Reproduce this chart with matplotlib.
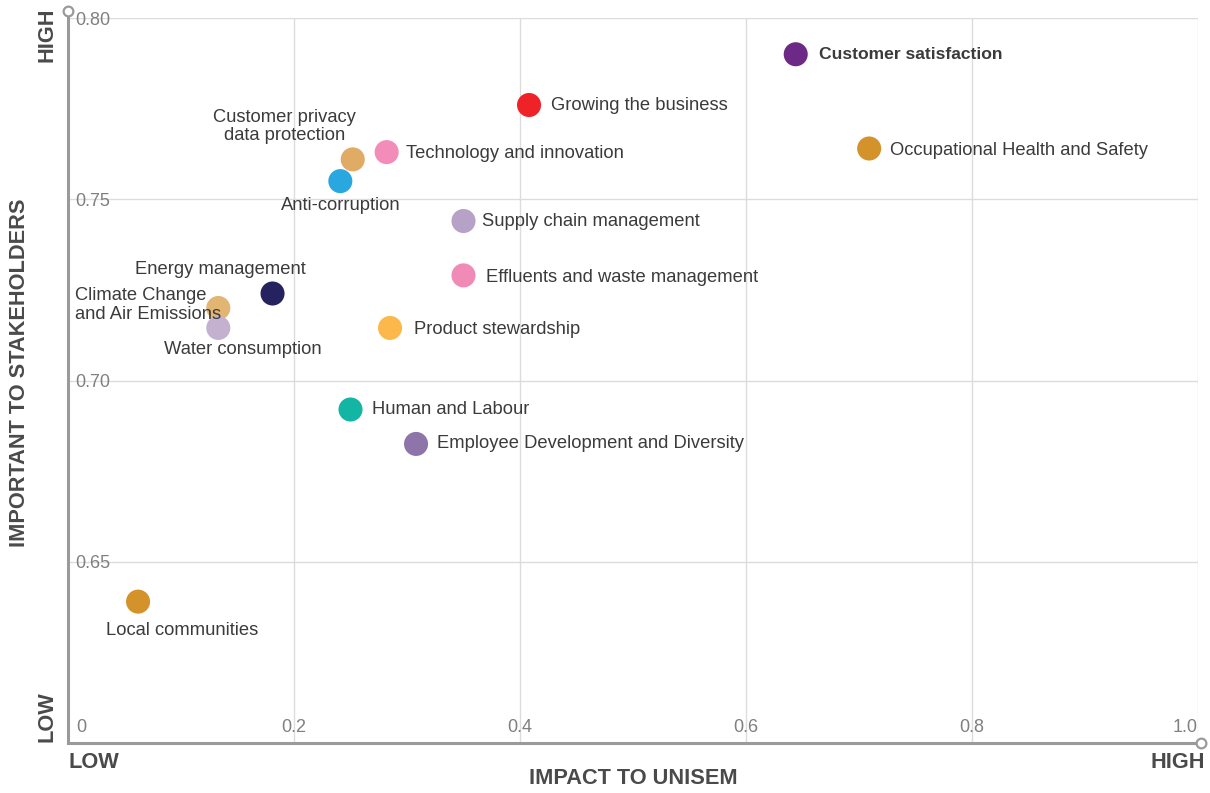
import matplotlib
matplotlib.use("Agg")
import matplotlib.pyplot as plt
from matplotlib.lines import Line2D

plt.rcParams['font.family'] = ['Liberation Sans', 'DejaVu Sans']

# data
topics = [
    "Customer satisfaction", "Growing the business", "Occupational Health and Safety",
    "Technology and innovation", "Customer privacy\ndata protection", "Anti-corruption",
    "Supply chain management", "Effluents and waste management", "Energy management",
    "Climate Change\nand Air Emissions", "Water consumption", "Product stewardship",
    "Human and Labour", "Employee Development and Diversity", "Local communities",
]
impact = [0.644, 0.408, 0.709, 0.282, 0.252, 0.241, 0.350, 0.350, 0.181,
          0.133, 0.133, 0.285, 0.250, 0.308, 0.062]
importance = [0.790, 0.776, 0.764, 0.763, 0.761, 0.755, 0.744, 0.729, 0.724,
              0.720, 0.7145, 0.7145, 0.692, 0.6825, 0.639]
colors = ["#6c2a86", "#ee2227", "#d4922b", "#f28db9", "#e0ab65", "#29a8e0",
          "#b8a1c7", "#f08ab7", "#25225f", "#e3b572", "#c4b1d0", "#fdb84b",
          "#13b5a5", "#8e75a9", "#d4922b"]

x_ticks = [0, 0.2, 0.4, 0.6, 0.8, 1.0]
x_tick_labels = ["0", "0.2", "0.4", "0.6", "0.8", "1.0"]
y_ticks = [0.65, 0.70, 0.75, 0.80]
y_tick_labels = ["0.65", "0.70", "0.75", "0.80"]

# label placement: (dx, dy) in pixels, horizontal alignment
label_pos = [
    (23, 0, "left"), (22, 0, "left"), (21, -2, "left"), (19, -1, "left"),
    (-68, 33, "center"), (0, -24, "center"), (19, 0, "left"), (22, -2, "left"),
    (-52, 24, "center"), (-143, 3, "left"), (25, -22, "center"), (24, -2, "left"),
    (22, 0, "left"), (21, 0, "left"), (44, -29, "center"),
]

W, H = 1210, 793
fig = plt.figure(figsize=(W / 100, H / 100), dpi=100)
x0, x1, y0, y1 = 68, 1198, 18, 743
ax = fig.add_axes([x0 / W, 1 - y1 / H, (x1 - x0) / W, (y1 - y0) / H])
ax.set_xlim(0, 1.0)
ax.set_ylim(0.60, 0.80)

grid_c = "#dcdcdc"
for xt in x_ticks[1:]:
    ax.axvline(xt, color=grid_c, lw=1, zorder=0)
for yt in y_ticks:
    ax.axhline(yt, color=grid_c, lw=1, zorder=0)

for s in ax.spines.values():
    s.set_visible(False)
ax.set_xticks([])
ax.set_yticks([])

# axis lines with open circle ends
axis_c = "#9a9a9a"
ytop = 0.8018
ax.add_line(Line2D([0, 0], [0.60, ytop], color=axis_c, lw=2.2, clip_on=False, zorder=3))
ax.add_line(Line2D([0, 1.003], [0.60, 0.60], color=axis_c, lw=2.2, clip_on=False, zorder=3))
ax.plot([0], [ytop], "o", ms=7, mfc="white", mec=axis_c, mew=1.6, clip_on=False, zorder=4)
ax.plot([1.003], [0.60], "o", ms=7, mfc="white", mec=axis_c, mew=1.6, clip_on=False, zorder=4)

tick_c = "#808080"
for yt, lab in zip(y_ticks, y_tick_labels):
    ax.annotate(lab, (0, yt), xytext=(5, -1.5), textcoords="offset points",
                ha="left", va="center", fontsize=13, color=tick_c)
for i, (xt, lab) in enumerate(zip(x_ticks, x_tick_labels)):
    ha = "left" if i == 0 else ("right" if i == len(x_ticks) - 1 else "center")
    dx = 6 if i == 0 else 0
    ax.annotate(lab, (xt, 0.60), xytext=(dx, 11), textcoords="offset points",
                ha=ha, va="center", fontsize=13, color=tick_c)

ax.scatter(impact, importance, s=300, c=colors, edgecolors="none", zorder=5, clip_on=False)

txt_c = "#3b3b3b"
for i, (name, x, y, (dx, dy, ha)) in enumerate(zip(topics, impact, importance, label_pos)):
    ax.annotate(name, (x, y), xytext=(dx * 0.72, dy * 0.72), textcoords="offset points",
                ha=ha, va="center", fontsize=12.6 if i == 0 else 13.2,
                fontweight="bold" if i == 0 else "normal",
                color=txt_c, linespacing=1.1, zorder=6)

lab_c = "#4a4a4a"
fig.text(633 / W, 1 - 779 / H, "IMPACT TO UNISEM", ha="center", va="center",
         fontsize=15.7, fontweight="bold", color=lab_c)
fig.text(68 / W, 1 - 763 / H, "LOW", ha="left", va="center",
         fontsize=15.7, fontweight="bold", color=lab_c)
fig.text(1205 / W, 1 - 763 / H, "HIGH", ha="right", va="center",
         fontsize=15.7, fontweight="bold", color=lab_c)
fig.text(20 / W, 1 - 373 / H, "IMPORTANT TO STAKEHOLDERS", ha="center", va="center",
         rotation=90, fontsize=15.7, fontweight="bold", color=lab_c)
fig.text(47 / W, 1 - 8 / H, "HIGH", ha="center", va="top",
         rotation=90, fontsize=15.7, fontweight="bold", color=lab_c)
fig.text(47 / W, 1 - 742 / H, "LOW", ha="center", va="bottom",
         rotation=90, fontsize=15.7, fontweight="bold", color=lab_c)

fig.savefig("out.png", dpi=100)
